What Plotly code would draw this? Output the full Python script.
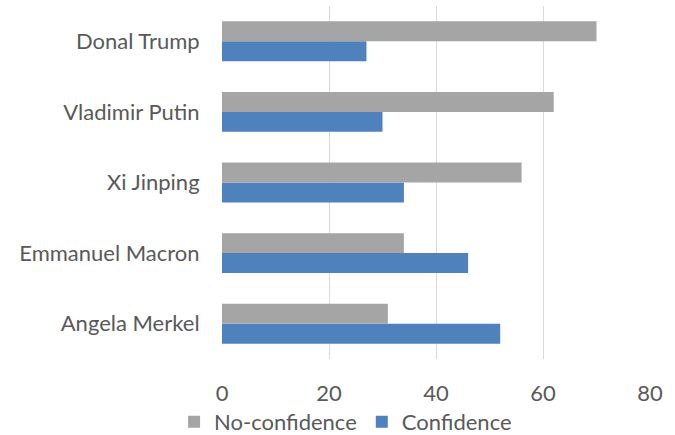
import plotly.graph_objects as go

# Leaders, listed bottom to top as they appear on the category axis
leaders = ["Angela Merkel", "Emmanuel Macron", "Xi Jinping", "Vladimir Putin", "Donal Trump"]
confidence = [52, 46, 34, 30, 27]
no_confidence = [31, 34, 56, 62, 70]
x_ticks = [0, 20, 40, 60, 80]

TEXT = "#595959"
FONT = "Lato"
SIZE = 22

fig = go.Figure()
fig.add_trace(go.Bar(
    y=leaders, x=confidence, name="Confidence", orientation="h",
    marker=dict(color="#4F81BD", line=dict(width=0)),
))
fig.add_trace(go.Bar(
    y=leaders, x=no_confidence, name="No-confidence", orientation="h",
    marker=dict(color="#A5A5A5", line=dict(width=0)),
))

fig.update_layout(
    width=675, height=435,
    margin=dict(l=222, r=25, t=6, b=76, autoexpand=False),
    paper_bgcolor="white", plot_bgcolor="white",
    barmode="group", bargap=0.435, bargroupgap=0,
    font=dict(family=FONT, color=TEXT, size=SIZE),
    showlegend=True,
    legend=dict(
        orientation="h", traceorder="reversed",
        x=-0.112, xanchor="left", y=-0.178, yanchor="middle",
        bgcolor="rgba(0,0,0,0)",
        font=dict(size=SIZE, color=TEXT), itemwidth=30,
    ),
    xaxis=dict(
        range=[0, 80], tickvals=x_ticks, ticktext=[str(v) for v in x_ticks],
        showgrid=True, gridcolor="#D9D9D9", gridwidth=1,
        zeroline=False, showline=False, automargin=False,
        ticks="outside", ticklen=15, tickcolor="rgba(0,0,0,0)",
        tickfont=dict(size=SIZE, color=TEXT),
    ),
    yaxis=dict(
        showgrid=False, zeroline=False, showline=False, automargin=False,
        ticks="outside", ticklen=17, tickcolor="rgba(0,0,0,0)",
        tickfont=dict(size=SIZE, color=TEXT),
    ),
)

fig.write_html("out.html")
